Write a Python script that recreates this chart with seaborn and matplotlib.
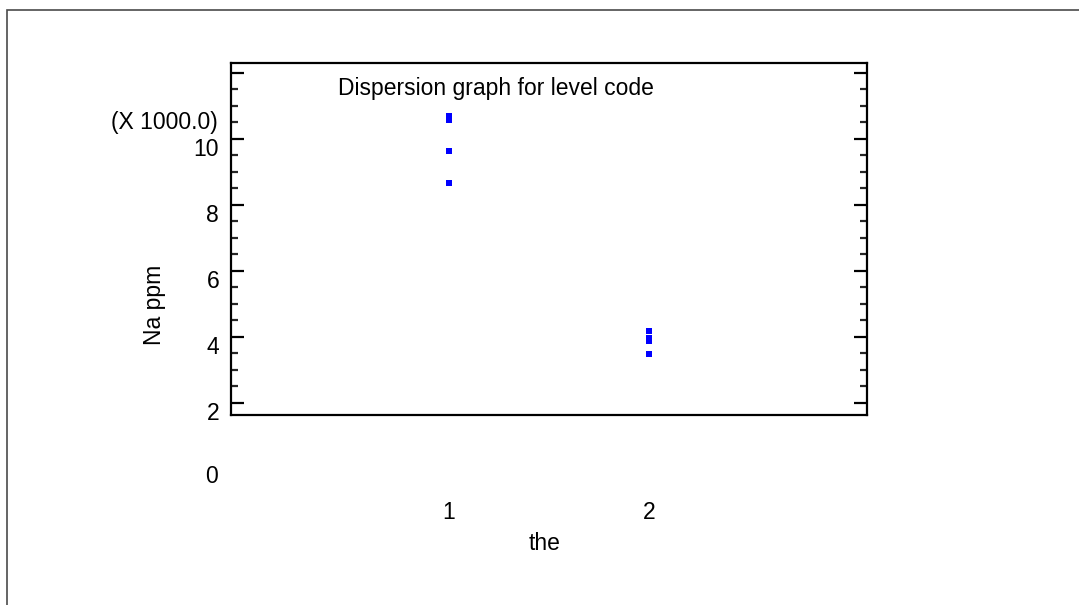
import matplotlib
matplotlib.use("Agg")
import matplotlib.pyplot as plt
import matplotlib.transforms as mtransforms
from matplotlib.ticker import MultipleLocator
from matplotlib.patches import Rectangle
import seaborn as sns
import pandas as pd

# data (Na in ppm)
level_code = [1, 1, 1, 1, 2, 2, 2, 2]
na_ppm = [10680, 10560, 9640, 8670, 4160, 3960, 3870, 3470]
x_ticks = [1, 2]
x_tick_labels = ["1", "2"]
y_major = [2000, 4000, 6000, 8000, 10000, 12000]
y_labels = ["2", "4", "6", "8", "10", ""]
title = "Dispersion graph for level code"

df = pd.DataFrame({"level": level_code, "na": na_ppm})

sns.set_theme(style="white")
plt.rcParams["font.family"] = ["Liberation Sans", "DejaVu Sans"]
plt.rcParams["text.color"] = "black"
plt.rcParams["axes.labelcolor"] = "black"
FS = 16.5

fig = plt.figure(figsize=(10.79, 6.05), dpi=100)
W, H = 1079, 605
ax = fig.add_axes([231 / W, 1 - 415 / H, 636 / W, 352 / H])

# outer frame (only left/top visible)
fig.add_artist(Rectangle((7 / W, -0.1), 1.5, 1 - 10 / H + 0.1, transform=fig.transFigure,
                         fill=False, edgecolor="#4a4a4a", linewidth=1.2))

sns.scatterplot(data=df, x="level", y="na", ax=ax, marker="s", s=20,
                color="#0000ff", linewidth=0, legend=False)

ax.set_xlim(-0.09, 3.09)
ax.set_ylim(1630, 12290)

for sp in ax.spines.values():
    sp.set_visible(True)
    sp.set_color("black")
    sp.set_linewidth(1.6)

# y axis ticks, inward on both sides
ax.set_yticks(y_major)
ax.set_yticklabels(y_labels)
ax.yaxis.set_minor_locator(MultipleLocator(500))
ax.tick_params(axis="y", which="major", direction="in", length=9.5, width=1.6,
               left=True, right=True, labelsize=FS, pad=8.5, colors="black")
ax.tick_params(axis="y", which="minor", direction="in", length=5, width=1.6,
               left=True, right=True)
shift = mtransforms.ScaledTranslation(0, -8 / 100, fig.dpi_scale_trans)
for lab in ax.get_yticklabels():
    lab.set_transform(lab.get_transform() + shift)

# "0" label sits outside the box
ytrans = mtransforms.blended_transform_factory(ax.transAxes, ax.transData)
ax.text(-13 / 636, 0, "0", transform=ytrans + shift, ha="right", va="center",
        fontsize=FS, clip_on=False)
ax.text(-13 / 636, 1 - (122.7 - 63) / 352, "(X 1000.0)", transform=ax.transAxes,
        ha="right", va="center", fontsize=FS)

# x axis: no tick marks, labels well below the box
ax.set_xticks(x_ticks)
ax.set_xticklabels(x_tick_labels)
ax.tick_params(axis="x", which="both", length=0, pad=62, labelsize=FS, colors="black")

ax.set_ylabel("Na ppm", fontsize=FS)
ax.yaxis.label.set_va("center")
ax.yaxis.set_label_coords((155 - 231) / 636, (415 - 305) / 352)
ax.set_xlabel("the", fontsize=FS)
ax.xaxis.label.set_va("center")
ax.xaxis.set_label_coords((545 - 231) / 636, (415 - 543) / 352)

ax.text((496 - 231) / 636, (415 - 88) / 352, title, transform=ax.transAxes,
        ha="center", va="center", fontsize=FS)

ax.grid(False)
fig.savefig("out.png", dpi=100)
